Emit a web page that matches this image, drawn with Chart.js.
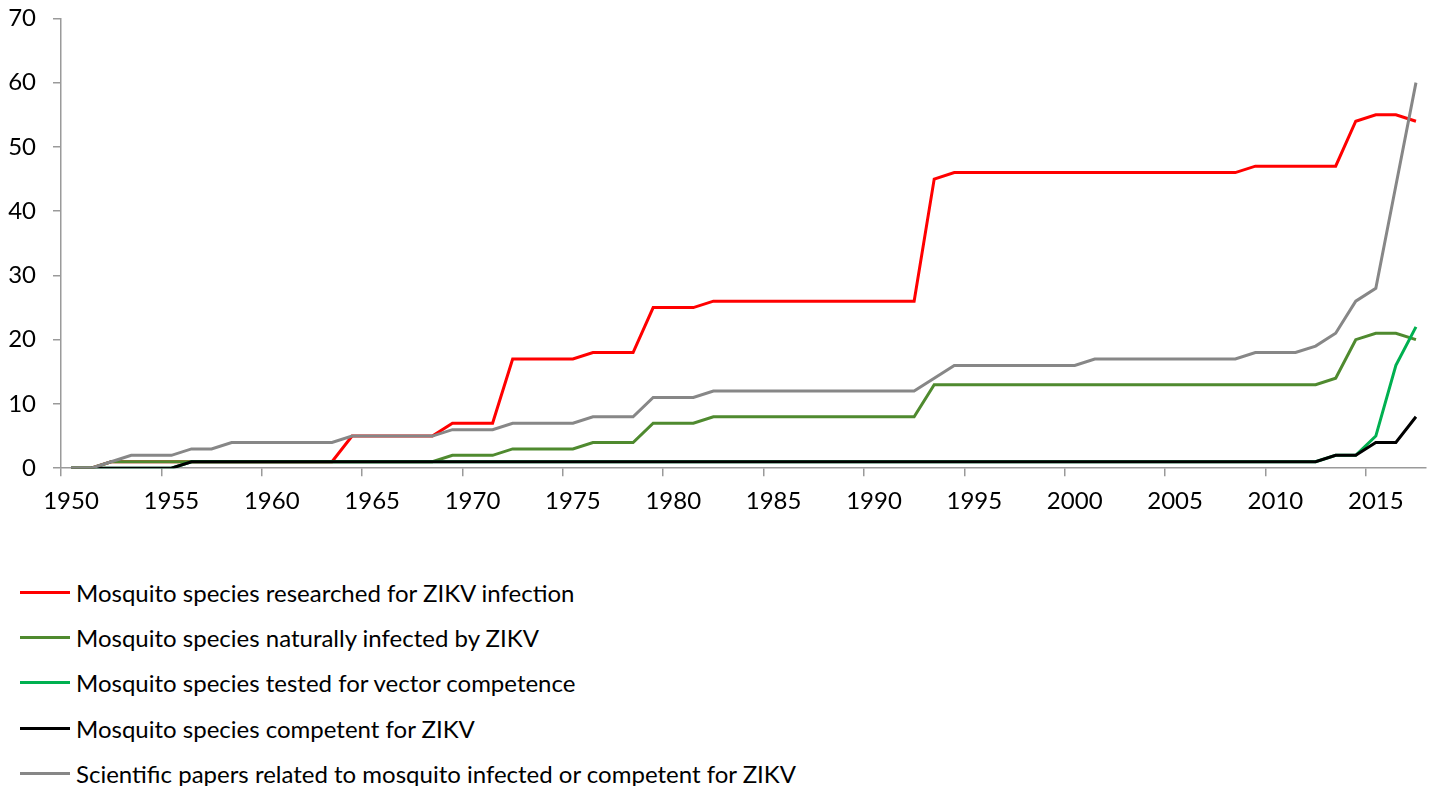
<!DOCTYPE html>
<html>
<head>
<meta charset="utf-8">
<script src="https://cdn.jsdelivr.net/npm/chart.js@4.4.1/dist/chart.umd.min.js"></script>
<style>
    body { margin: 0; background: #fff; font-family: Lato, 'Open Sans', sans-serif; overflow: hidden; }
    #wrap { position: absolute; left: 0; top: -13px; width: 1429px; height: 540px; }
    #legend { position: absolute; left: 20px; top: 570px; }
    .lg_row { display: flex; align-items: center; height: 45.2px; font-size: 24px; color: #000; }
    .lg_line { width: 50px; height: 3px; margin-right: 6px; }
</style>
</head>
<body>
<div id="wrap"><canvas id="zikv"></canvas></div>
<div id="legend"></div>
<script>
// 연도 (카테고리)
const years = [
    '1950', '1951', '1952', '1953', '1954', '1955', '1956', '1957', '1958', '1959',
    '1960', '1961', '1962', '1963', '1964', '1965', '1966', '1967', '1968', '1969',
    '1970', '1971', '1972', '1973', '1974', '1975', '1976', '1977', '1978', '1979',
    '1980', '1981', '1982', '1983', '1984', '1985', '1986', '1987', '1988', '1989',
    '1990', '1991', '1992', '1993', '1994', '1995', '1996', '1997', '1998', '1999',
    '2000', '2001', '2002', '2003', '2004', '2005', '2006', '2007', '2008', '2009',
    '2010', '2011', '2012', '2013', '2014', '2015', '2016', '2017'
];

const researched = [
    0, 0, 1, 1, 1, 1, 1, 1, 1, 1,
    1, 1, 1, 1, 5, 5, 5, 5, 5, 7,
    7, 7, 17, 17, 17, 17, 18, 18, 18, 25,
    25, 25, 26, 26, 26, 26, 26, 26, 26, 26,
    26, 26, 26, 45, 46, 46, 46, 46, 46, 46,
    46, 46, 46, 46, 46, 46, 46, 46, 46, 47,
    47, 47, 47, 47, 54, 55, 55, 54
];

const naturallyInfected = [
    0, 0, 1, 1, 1, 1, 1, 1, 1, 1,
    1, 1, 1, 1, 1, 1, 1, 1, 1, 2,
    2, 2, 3, 3, 3, 3, 4, 4, 4, 7,
    7, 7, 8, 8, 8, 8, 8, 8, 8, 8,
    8, 8, 8, 13, 13, 13, 13, 13, 13, 13,
    13, 13, 13, 13, 13, 13, 13, 13, 13, 13,
    13, 13, 13, 14, 20, 21, 21, 20
];

const testedCompetence = [
    0, 0, 0, 0, 0, 0, 1, 1, 1, 1,
    1, 1, 1, 1, 1, 1, 1, 1, 1, 1,
    1, 1, 1, 1, 1, 1, 1, 1, 1, 1,
    1, 1, 1, 1, 1, 1, 1, 1, 1, 1,
    1, 1, 1, 1, 1, 1, 1, 1, 1, 1,
    1, 1, 1, 1, 1, 1, 1, 1, 1, 1,
    1, 1, 1, 2, 2, 5, 16, 22
];

const competent = [
    0, 0, 0, 0, 0, 0, 1, 1, 1, 1,
    1, 1, 1, 1, 1, 1, 1, 1, 1, 1,
    1, 1, 1, 1, 1, 1, 1, 1, 1, 1,
    1, 1, 1, 1, 1, 1, 1, 1, 1, 1,
    1, 1, 1, 1, 1, 1, 1, 1, 1, 1,
    1, 1, 1, 1, 1, 1, 1, 1, 1, 1,
    1, 1, 1, 2, 2, 4, 4, 8
];

const papers = [
    0, 0, 1, 2, 2, 2, 3, 3, 4, 4,
    4, 4, 4, 4, 5, 5, 5, 5, 5, 6,
    6, 6, 7, 7, 7, 7, 8, 8, 8, 11,
    11, 11, 12, 12, 12, 12, 12, 12, 12, 12,
    12, 12, 12, 14, 16, 16, 16, 16, 16, 16,
    16, 17, 17, 17, 17, 17, 17, 17, 17, 18,
    18, 18, 19, 21, 26, 28, 44, 60
];

const series = [
    { label: 'Mosquito species researched for ZIKV infection', data: researched, color: '#ff0000', order: 5 },
    { label: 'Mosquito species naturally infected by ZIKV', data: naturallyInfected, color: '#4f8a2f', order: 4 },
    { label: 'Mosquito species tested for vector competence', data: testedCompetence, color: '#00b050', order: 3 },
    { label: 'Mosquito species competent for ZIKV', data: competent, color: '#000000', order: 2 },
    { label: 'Scientific papers related to mosquito infected or competent for ZIKV', data: papers, color: '#878787', order: 1 }
];

const axisColor = '#9a9a9a';
const tickFont = { family: 'Lato', size: 24 };

function createChart() {
    const ctx = document.getElementById('zikv').getContext('2d');
    return new Chart(ctx, {
        type: 'line',
        data: {
            labels: years,
            datasets: series.map(s => ({
                label: s.label,
                data: s.data,
                borderColor: s.color,
                backgroundColor: s.color,
                borderWidth: 3,
                pointRadius: 0,
                tension: 0,
                fill: false,
                order: s.order
            }))
        },
        options: {
            responsive: true,
            maintainAspectRatio: false,
            animation: false,
            layout: { padding: { left: 8, right: 3, top: 6, bottom: 0 } },
            plugins: {
                legend: { display: false },
                tooltip: { enabled: false }
            },
            scales: {
                x: {
                    offset: true,
                    border: { display: true, color: axisColor, width: 1.5 },
                    grid: {
                        offset: true,
                        drawOnChartArea: false,
                        drawTicks: true,
                        tickLength: 8,
                        lineWidth: 1.5,
                        color: c => (c.index % 5 === 0 ? axisColor : 'rgba(0,0,0,0)')
                    },
                    ticks: {
                        autoSkip: false,
                        maxRotation: 0,
                        padding: 11,
                        color: '#000',
                        font: tickFont,
                        callback: function (value, index) {
                            return index % 5 === 0 ? this.getLabelForValue(value) : '';
                        }
                    }
                },
                y: {
                    min: 0,
                    max: 70,
                    afterFit: function (scale) {
                        scale.width = 53; // 축 위치 고정
                    },
                    border: { display: true, color: axisColor, width: 1.5 },
                    grid: {
                        drawOnChartArea: false,
                        drawTicks: true,
                        tickLength: 8,
                        lineWidth: 1.5,
                        color: axisColor
                    },
                    ticks: {
                        stepSize: 10,
                        padding: 17,
                        color: '#000',
                        font: tickFont
                    }
                }
            }
        }
    });
}

// 범례 (한 줄에 하나씩)
function buildLegend() {
    const box = document.getElementById('legend');
    series.forEach(s => {
        box.insertAdjacentHTML('beforeend', `
            <div class='lg_row'>
                <span class='lg_line' style='background:${s.color}'></span>
                <span>${s.label}</span>
            </div>
        `);
    });
}

buildLegend();
createChart();
</script>
</body>
</html>
